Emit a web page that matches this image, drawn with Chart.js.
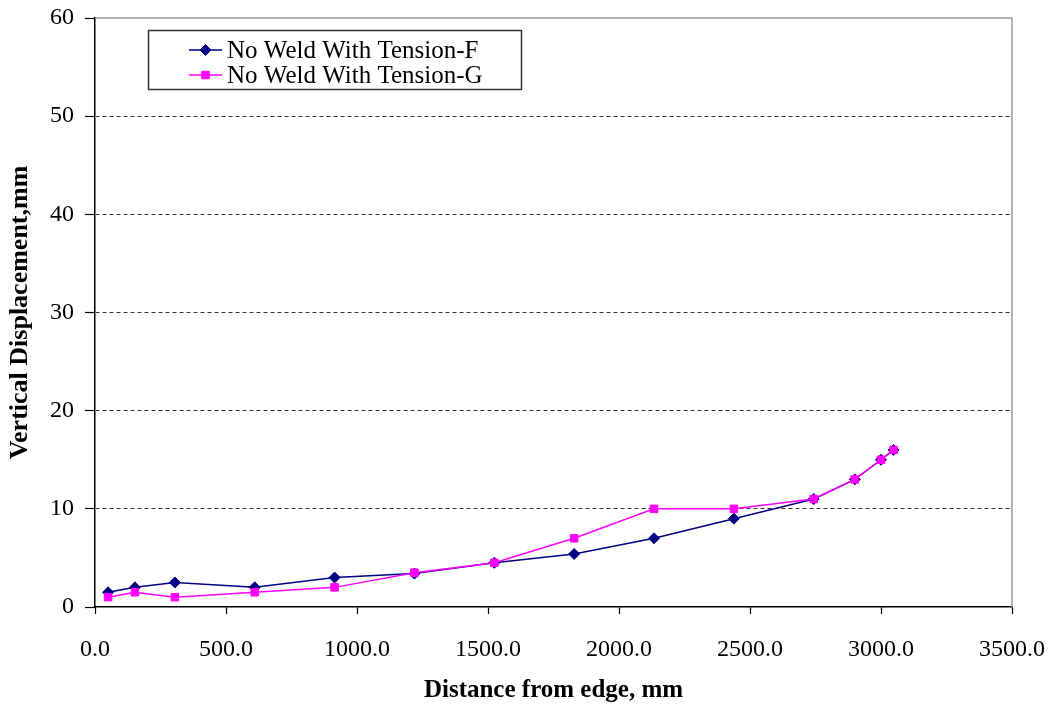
<!DOCTYPE html>
<html>
<head>
<meta charset="utf-8">
<script src="https://cdn.jsdelivr.net/npm/chart.js@4/dist/chart.umd.min.js"></script>
<style>
  html, body { margin: 0; padding: 0; background: #fff; }
  #wrap { width: 1052px; height: 707px; position: relative; }
</style>
</head>
<body>
<div id="wrap"><canvas id="c" width="1052" height="707"></canvas></div>
<script>
// ---- data ----
const seriesNames = ["No Weld With Tension-F", "No Weld With Tension-G"];
const xF = [50, 152.4, 304.8, 609.6, 914.4, 1219.2, 1524, 1828.8, 2133.6, 2438.4, 2743.2, 2900, 3000, 3048];
const yF = [1.5, 2.0, 2.5, 2.0, 3.0, 3.4, 4.5, 5.4, 7.0, 9.0, 11.0, 13.0, 15.0, 16.0];
const xG = [50, 152.4, 304.8, 609.6, 914.4, 1219.2, 1524, 1828.8, 2133.6, 2438.4, 2743.2, 2900, 3000, 3048];
const yG = [1.0, 1.5, 1.0, 1.5, 2.0, 3.5, 4.5, 7.0, 10.0, 10.0, 11.0, 13.0, 15.0, 16.0];
const xTitle = "Distance from edge, mm";
const yTitle = "Vertical Displacement,mm";

const toPts = (xs, ys) => xs.map((x, i) => ({ x: x, y: ys[i] }));

const SERIF = "'Liberation Serif', 'Times New Roman', serif";
const navy = '#000080';
const pink = '#FF00FF';

const framePlugin = {
  id: 'frame',
  afterDatasetsDraw(chart) {
    const { ctx, chartArea: a } = chart;
    ctx.save();
    ctx.strokeStyle = '#9a9a9a';
    ctx.lineWidth = 1.5;
    ctx.beginPath();
    ctx.moveTo(a.left, a.top);
    ctx.lineTo(a.right, a.top);
    ctx.lineTo(a.right, a.bottom);
    ctx.stroke();
    ctx.restore();
  }
};

const legendPlugin = {
  id: 'boxLegend',
  afterDraw(chart) {
    const { ctx } = chart;
    const box = { x: 148.5, y: 30.5, w: 373, h: 59 };
    ctx.save();
    ctx.fillStyle = '#fff';
    ctx.fillRect(box.x, box.y, box.w, box.h);
    ctx.strokeStyle = '#333';
    ctx.lineWidth = 1.5;
    ctx.strokeRect(box.x, box.y, box.w, box.h);
    const rows = [50, 75];
    chart.data.datasets.forEach((ds, i) => {
      const y = rows[i];
      ctx.strokeStyle = ds.borderColor;
      ctx.lineWidth = 1.5;
      ctx.beginPath();
      ctx.moveTo(189, y);
      ctx.lineTo(222, y);
      ctx.stroke();
      ctx.fillStyle = ds.pointBackgroundColor;
      ctx.strokeStyle = ds.pointBorderColor;
      ctx.lineWidth = 1;
      Chart.helpers.drawPoint(ctx, {
        pointStyle: ds.pointStyle,
        radius: ds.pointRadius,
        borderWidth: 1,
        rotation: 0
      }, 205.5, y);
      ctx.fillStyle = '#000';
      ctx.font = "25px " + SERIF;
      ctx.textBaseline = 'middle';
      ctx.textAlign = 'left';
      ctx.fillText(ds.label, 227, y + 1);
    });
    ctx.restore();
  }
};

new Chart(document.getElementById('c'), {
  type: 'line',
  data: {
    datasets: [
      {
        label: seriesNames[0],
        data: toPts(xF, yF),
        borderColor: navy,
        backgroundColor: navy,
        borderWidth: 1.5,
        pointStyle: 'rectRot',
        pointRadius: 5.5,
        pointBorderWidth: 1,
        pointBackgroundColor: navy,
        pointBorderColor: navy,
        order: 1,
        tension: 0
      },
      {
        label: seriesNames[1],
        data: toPts(xG, yG),
        borderColor: pink,
        backgroundColor: pink,
        borderWidth: 1.5,
        pointStyle: 'rect',
        pointRadius: 5.3,
        pointBorderWidth: 1,
        pointBackgroundColor: pink,
        pointBorderColor: pink,
        order: 0,
        tension: 0
      }
    ]
  },
  options: {
    responsive: false,
    animation: false,
    devicePixelRatio: 1,
    layout: { padding: { left: 0, top: 18, right: 40, bottom: 0 } },
    plugins: {
      legend: { display: false },
      tooltip: { enabled: false }
    },
    scales: {
      x: {
        type: 'linear',
        min: 0,
        max: 3500,
        afterFit(s) { s.height = 100; s.paddingLeft = 0; s.paddingRight = 0; },
        ticks: {
          stepSize: 500,
          color: '#000',
          font: { family: SERIF, size: 24 },
          padding: 21,
          maxRotation: 0,
          callback: v => Number(v).toFixed(1)
        },
        grid: {
          drawOnChartArea: false,
          drawTicks: true,
          tickLength: 7,
          tickColor: '#000',
          tickWidth: 1.2
        },
        border: { color: '#000', width: 1.5 },
        title: {
          display: true,
          text: xTitle,
          color: '#000',
          font: { family: SERIF, size: 25, weight: 'bold' },
          padding: { top: 0, bottom: 1 }
        }
      },
      y: {
        min: 0,
        max: 60,
        afterFit(s) { s.width = 95; s.paddingTop = 0; s.paddingBottom = 0; },
        ticks: {
          stepSize: 10,
          color: '#000',
          font: { family: SERIF, size: 24 },
          padding: 11
        },
        grid: {
          drawOnChartArea: true,
          drawTicks: true,
          tickLength: 10,
          tickColor: '#000',
          tickWidth: 1.2,
          tickBorderDash: [],
          lineWidth: 1,
          color: ctx => (ctx.tick && (ctx.tick.value === 0 || ctx.tick.value === 60)) ? 'rgba(0,0,0,0)' : '#333'
        },
        border: { color: '#000', width: 1.5, dash: [4, 3] },
        title: {
          display: true,
          text: yTitle,
          color: '#000',
          font: { family: SERIF, size: 26, weight: 'bold' },
          padding: { top: 5, bottom: 0 }
        }
      }
    }
  },
  plugins: [framePlugin, legendPlugin]
});
</script>
</body>
</html>
